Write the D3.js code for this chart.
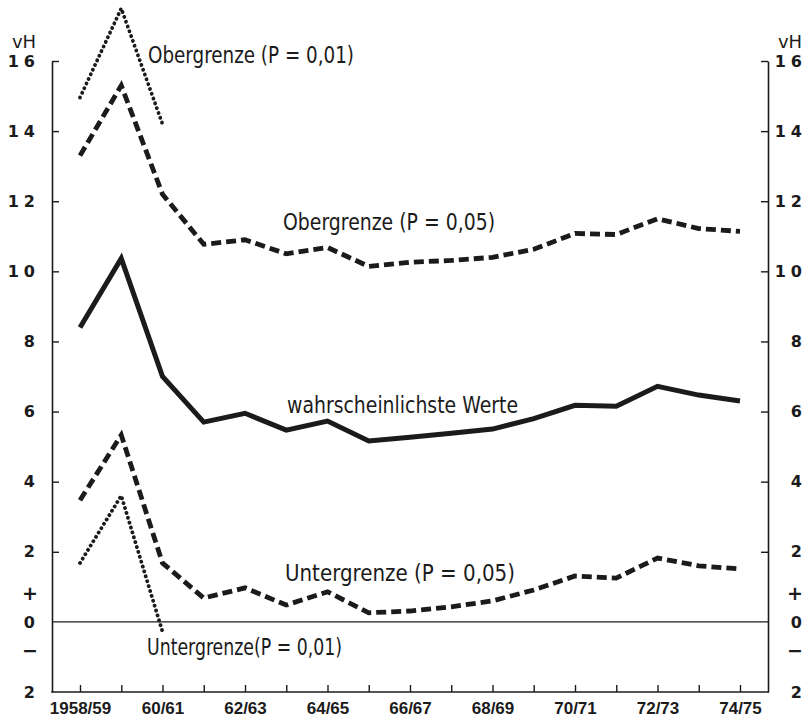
<!DOCTYPE html>
<html>
<head>
<meta charset="utf-8">
<script src="https://cdn.jsdelivr.net/npm/d3@7"></script>
<style>
  body { margin: 0; background: #fff; }
  svg { display: block; }
</style>
</head>
<body>
<div id="chart"></div>
<script>
// Jahre (x-Achse)
const years = ['1958/59', '59/60', '60/61', '61/62', '62/63', '63/64', '64/65', '65/66', '66/67',
    '67/68', '68/69', '69/70', '70/71', '71/72', '72/73', '73/74', '74/75'];
const yearLabels = ['1958/59', '60/61', '62/63', '64/65', '66/67', '68/69', '70/71', '72/73', '74/75'];

// Werte in vH
const likely = [8.4, 10.37, 7.0, 5.7, 5.95, 5.47, 5.73, 5.16, 5.27, 5.38, 5.5, 5.8, 6.18, 6.15, 6.72, 6.47, 6.3];
const upper05 = [13.3, 15.3, 12.2, 10.77, 10.9, 10.5, 10.68, 10.14, 10.26, 10.31, 10.4, 10.63, 11.08, 11.05, 11.5, 11.22, 11.14];
const lower05 = [3.47, 5.33, 1.68, 0.68, 0.97, 0.48, 0.86, 0.26, 0.31, 0.43, 0.6, 0.91, 1.31, 1.25, 1.82, 1.6, 1.51];
const upper01 = [14.96, 17.5, 14.2];
const lower01 = [1.68, 3.6, -0.28];

// y-Achse
const yTicks = [-2, 0, 2, 4, 6, 8, 10, 12, 14, 16];
const yTickLabels = ['2', '0', '2', '4', '6', '8', '10', '12', '14', '16'];
const signValues = [0.8, -0.8];
const signLabels = ['+', '\u2212'];

const notes = ['Obergrenze (P = 0,01)', 'Obergrenze (P = 0,05)', 'wahrscheinlichste Werte',
    'Untergrenze (P = 0,05)', 'Untergrenze(P = 0,01)'];

const W = 806, H = 719;
const mLeft = 52, mRight = 768, mTop = 61, mBottom = 692;
const ink = '#1b1b1b';

const svg = d3.select('#chart').append('svg')
    .attr('width', W)
    .attr('height', H);

const x = d3.scalePoint().domain(years).range([80, 740]);
const y = d3.scaleLinear().domain([-2, 16]).range([mBottom, mTop]);

const fmtY = d => yTickLabels[yTicks.indexOf(d)];

// linke Achse
const gl = svg.append('g')
    .attr('transform', `translate(${mLeft},0)`)
    .call(d3.axisLeft(y).tickValues(yTicks).tickFormat(fmtY).tickSizeInner(-7).tickSizeOuter(0).tickPadding(17));

// rechte Achse
const gr = svg.append('g')
    .attr('transform', `translate(${mRight},0)`)
    .call(d3.axisRight(y).tickValues(yTicks).tickFormat(fmtY).tickSizeInner(-7).tickSizeOuter(0).tickPadding(34));
gr.selectAll('.tick text').attr('text-anchor', 'end');

[gl, gr].forEach(g => {
    g.select('.domain').attr('stroke', ink).attr('stroke-width', 1.6);
    g.selectAll('.tick line').attr('stroke', ink).attr('stroke-width', 1.4);
    g.selectAll('.tick').filter(d => d <= 0).select('line').remove();
    g.selectAll('.tick text')
        .attr('fill', ink)
        .style('font-family', '"DejaVu Sans", sans-serif')
        .style('font-weight', 'bold')
        .style('font-size', '16px')
        .style('letter-spacing', d => d >= 10 ? '5px' : '0px')
        .attr('dx', d => d >= 10 ? '5px' : '0px');
});

// + und − Zeichen
[mLeft - 22, mRight + 27].forEach(cx => {
    svg.append('g').selectAll('text')
        .data(signValues)
        .enter()
        .append('text')
        .attr('x', cx)
        .attr('y', d => y(d))
        .attr('dy', '0.35em')
        .attr('text-anchor', 'middle')
        .attr('fill', ink)
        .style('font-family', '"DejaVu Sans", sans-serif')
        .style('font-weight', 'bold')
        .style('font-size', '19px')
        .text((d, i) => signLabels[i]);
});

// vH
[24, 790].forEach(cx => {
    svg.append('text')
        .attr('x', cx)
        .attr('y', 48)
        .attr('text-anchor', 'middle')
        .attr('fill', ink)
        .style('font-family', '"DejaVu Sans", sans-serif')
        .style('font-size', '18px')
        .text('vH');
});

// x-Achse
const gx = svg.append('g')
    .attr('transform', `translate(0,${mBottom})`)
    .call(d3.axisBottom(x).tickFormat(d => yearLabels.includes(d) ? d : '').tickSizeInner(-7).tickSizeOuter(0).tickPadding(10));
gx.select('.domain').attr('d', `M${mLeft - 0.8},0H${mRight + 0.8}`).attr('stroke', ink).attr('stroke-width', 1.6);
gx.selectAll('.tick line').attr('stroke', ink).attr('stroke-width', 1.4);
gx.selectAll('.tick text')
    .attr('fill', ink)
    .style('font-family', '"Liberation Sans Narrow", "Arial Narrow", sans-serif')
    .style('font-weight', 'bold')
    .style('font-size', '17px');

// Nulllinie
svg.append('line')
    .attr('x1', mLeft).attr('x2', mRight)
    .attr('y1', y(0)).attr('y2', y(0))
    .attr('stroke', ink)
    .attr('stroke-width', 1.3);

// Linien
const line = d3.line()
    .x((d, i) => x(years[i]))
    .y(d => y(d));

const series = [
    { values: likely, width: 5, dash: null, cap: 'butt' },
    { values: upper05, width: 4.8, dash: '10 5', cap: 'butt' },
    { values: lower05, width: 4.8, dash: '10 5', cap: 'butt' },
    { values: upper01, width: 3.8, dash: '0.1 5', cap: 'round' },
    { values: lower01, width: 3.8, dash: '0.1 5', cap: 'round' }
];

svg.append('g').selectAll('path')
    .data(series)
    .enter()
    .append('path')
    .attr('d', d => line(d.values))
    .attr('fill', 'none')
    .attr('stroke', ink)
    .attr('stroke-width', d => d.width)
    .attr('stroke-dasharray', d => d.dash)
    .attr('stroke-linecap', d => d.cap)
    .attr('stroke-linejoin', 'miter');

// Beschriftungen
const notePos = [[148, 63, 206], [283, 230, 212], [287, 413, 231], [285, 581, 230], [147, 655, 195]];
svg.append('g').selectAll('text')
    .data(notes)
    .enter()
    .append('text')
    .attr('x', (d, i) => notePos[i][0])
    .attr('y', (d, i) => notePos[i][1])
    .attr('textLength', (d, i) => notePos[i][2])
    .attr('lengthAdjust', 'spacingAndGlyphs')
    .attr('fill', ink)
    .style('font-family', '"DejaVu Sans", sans-serif')
    .style('font-size', '23px')
    .text(d => d);
</script>
</body>
</html>
